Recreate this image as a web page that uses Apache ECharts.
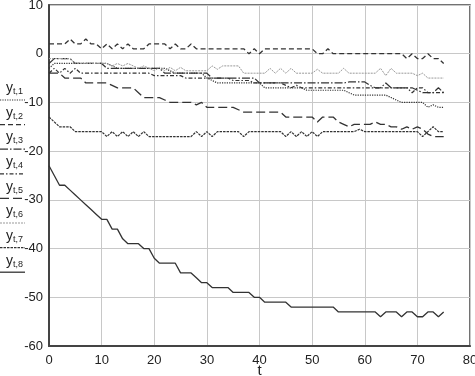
<!DOCTYPE html>
<html><head><meta charset="utf-8">
<script src="https://cdn.jsdelivr.net/npm/echarts@6/dist/echarts.min.js"></script>
<style>html,body{margin:0;padding:0;background:#fff}#c{width:475px;height:376px}</style>
</head><body><div id="c"></div>
<script>
const t = [0,1,2,3,4,5,6,7,8,9,10,11,12,13,14,15,16,17,18,19,20,21,22,23,24,25,26,27,28,29,30,31,32,33,34,35,36,37,38,39,40,41,42,43,44,45,46,47,48,49,50,51,52,53,54,55,56,57,58,59,60,61,62,63,64,65,66,67,68,69,70,71,72,73,74,75];
const xTicks = [0,10,20,30,40,50,60,70,80];
const yTicks = [-60,-50,-40,-30,-20,-10,0,10];
const seriesNames = ['t,1','t,2','t,3','t,4','t,5','t,6','t,7','t,8'];

const y1 = [-3,-2,-2,-2,-2,-2,-2,-2,-2,-2, -2,-2,-2.5,-3,-3,-3,-3,-3,-3,-3, -3,-3,-3,-3.5,-4,-4,-4,-4,-4,-4, -5,-5.5,-6,-6,-6,-6,-6,-6,-6,-6, -6,-7,-7,-7,-7,-7,-7,-7,-7,-7.5, -7.5,-7.5,-7.5,-7.5,-7.5,-7.5,-7.5,-8,-8.5,-8.5, -8.5,-8.5,-8.5,-8.5,-8.5,-9,-9.5,-10,-10,-10, -10,-10,-11,-10.5,-11,-11];
const y2 = [2,2,2,2,3,2,2,3,2,2, 1,2,1,2,1,2,1,1,1,2, 2,2,2,1,2,1,1,2,1,1, 1,1,1,1,1,1,1,1,0,1, 0,1,1,1,1,1,1,1,1,1, 1,0,0,1,0,0,0,0,0,0, 0,0,0,0,0,0,0,0,-1,0, -1,-1,0,-1,-1,-2];
const y3 = [-2,-1,-1,-1,-1,-2,-2,-2,-2,-2, -2,-3,-3,-3,-3,-3,-3,-3,-3,-3, -3,-3,-4,-4,-4,-4,-4,-4,-4,-4, -4,-5,-5,-5,-5,-5,-5,-5,-5,-5, -6,-6,-6,-6,-6,-6,-6,-6,-6,-6, -6,-6,-6,-6,-6,-6,-6,-5.8,-5.8,-5.8, -5.8,-6.5,-7,-7,-6,-7,-7,-7,-7,-7, -7.5,-8,-8,-8,-7,-8];
const y4 = [-4,-3,-4,-3,-4,-3,-4,-4,-4,-4, -4,-4,-4,-4,-4,-4,-4,-4,-4,-4, -4.5,-4.5,-4.5,-4.5,-4.5,-4.5,-5,-5,-5,-5, -5,-5,-5,-5,-5,-5.5,-5.5,-5.5,-5.5,-6, -6,-6,-6,-6,-6,-6.5,-7,-6.5,-7,-7, -7,-7,-7,-7,-7,-7,-7,-7,-7,-7, -7,-7,-7,-7,-7,-7,-7,-7,-7,-8, -7,-7,-8,-8,-8,-8];
const y5 = [-4,-4,-4,-5,-5,-5,-5,-6,-6,-6, -6,-6,-6.5,-7,-7,-7,-7,-8,-9,-9, -9,-9,-9.5,-10,-10,-10,-10,-10,-10.5,-10, -11,-11,-11,-11,-11,-11,-11.5,-12,-12,-12, -12,-12,-12,-12,-12,-13,-13,-13,-13,-13, -13,-14,-13,-13,-13,-14,-14.5,-15,-14.5,-14.5, -14.5,-14.5,-14,-14.5,-14.5,-15,-15,-15.5,-15,-15.5, -15,-15.5,-16.5,-17,-17,-17];
const y6 = [-1,-1,-1,-1,-1,-2,-2,-2,-2,-2, -2,-2,-2.5,-2,-2.5,-2,-2.5,-3,-2.5,-3, -3.5,-2.8,-3.5,-2.8,-3.5,-2.8,-3.5,-3.5,-3.5,-3.5, -3.5,-2.5,-3.2,-2.5,-2.5,-2.5,-2.5,-4,-4,-4, -4,-4,-3,-4,-3,-4,-3,-4,-4,-4, -4,-3.2,-4,-4,-4,-4,-3,-4,-4,-4, -4,-4,-4,-3,-4.5,-3,-4,-4,-4,-4, -4.5,-4,-5,-5,-5,-5];
const y7 = [-13,-14,-15,-15,-15,-16,-16,-16,-16,-16, -16,-17,-16,-17,-16,-17,-16,-17,-16,-17, -17,-17,-17,-17,-17,-17,-17,-17,-16,-17, -16,-17,-16,-16,-16,-16,-16,-17,-16,-16, -16,-16,-16,-16,-16,-17,-16,-17,-16,-17, -16,-17,-16,-16,-16,-16,-16,-16,-16,-15.5, -16,-16,-16,-16,-16,-16,-16,-16,-16,-16, -16,-17,-16,-15,-16,-16];
const y8 = [-23,-25,-27,-27,-28,-29,-30,-31,-32,-33, -34,-34,-36,-36,-38,-39,-39,-39,-40,-40, -42,-43,-43,-43,-43,-45,-45,-45,-46,-47, -47,-48,-48,-48,-48,-49,-49,-49,-49,-50, -50,-51,-51,-51,-51,-51,-52,-52,-52,-52, -52,-52,-52,-52,-52,-53,-53,-53,-53,-53, -53,-53,-53,-54,-53,-53,-53,-54,-53,-53, -54,-54,-53,-53,-54,-53];

const allY = [y1,y2,y3,y4,y5,y6,y7,y8];
const styles = [
  {color:'#333', width:1.2, type:[1.2,1.2]},
  {color:'#333', width:1.3, type:[5,3]},
  {color:'#333', width:1.2, type:[8,2,1.5,2]},
  {color:'#333', width:1.2, type:[4,2,1.5,2]},
  {color:'#333', width:1.3, type:[9,4]},
  {color:'#999', width:1, type:[2,1]},
  {color:'#333', width:1.2, type:[2.5,1]},
  {color:'#333', width:1.3, type:'solid'}
];

const chart = echarts.init(document.getElementById('c'), null, {renderer:'canvas'});
const series = allY.map((arr,i)=>({
  name: seriesNames[i], type:'line', symbol:'none', animation:false,
  data: t.map((tv,k)=>[tv, arr[k]]),
  lineStyle: {color: styles[i].color, width: styles[i].width, type: styles[i].type}
}));

const graphic = [];
const FONT = 'Liberation Sans, Arial, sans-serif';
seriesNames.forEach((nm,i)=>{
  const ty = 90 + i*24.7, ly = 100 + i*24.6;
  graphic.push({type:'text', left:6, top:ty-9, style:{text:'y', font:'14px '+FONT, fill:'#222'}});
  graphic.push({type:'text', left:13, top:ty-3, style:{text:nm, font:'9px '+FONT, fill:'#222'}});
  graphic.push({type:'line', shape:{x1:0,y1:ly,x2:25,y2:ly}, style:{stroke:styles[i].color, lineWidth:styles[i].width, lineDash: styles[i].type==='solid'?null:styles[i].type}});
});

chart.setOption({
  animation:false,
  backgroundColor:'#fff',
  grid:{left:49, right:5, top:5, bottom:30, show:true, borderColor:'#444', borderWidth:1.5, outerBoundsMode:'none', containLabel:false},
  xAxis:{type:'value', min:xTicks[0], max:xTicks[xTicks.length-1], interval:10,
    name:'t', nameLocation:'middle', nameGap:17, nameMoveOverlap:false,
    nameTextStyle:{fontSize:15, color:'#222', fontFamily:FONT, verticalAlign:'top'},
    axisLine:{show:true, onZero:false, lineStyle:{color:'#444', width:2}}, axisTick:{show:false},
    axisLabel:{fontSize:13, color:'#222', fontFamily:FONT, margin:8},
    splitLine:{show:true, lineStyle:{color:'#c8c8c8', width:1}}},
  yAxis:{type:'value', min:yTicks[0], max:yTicks[yTicks.length-1], interval:10,
    axisLine:{show:true, onZero:false, lineStyle:{color:'#444', width:2}}, axisTick:{show:false},
    axisLabel:{fontSize:13, color:'#222', fontFamily:FONT, margin:6},
    splitLine:{show:true, lineStyle:{color:'#c8c8c8', width:1}}},
  graphic: graphic,
  series: series
});
</script></body></html>
